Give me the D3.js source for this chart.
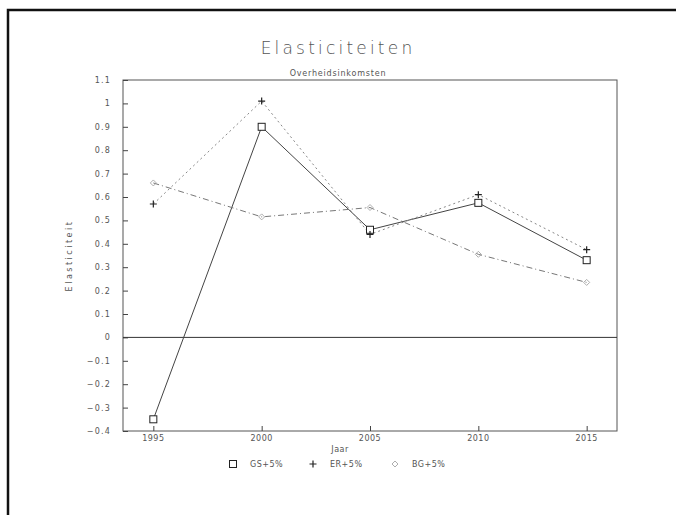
<!DOCTYPE html>
<html><head><meta charset="utf-8">
<script src="https://cdn.jsdelivr.net/npm/d3@7"></script>
<style>
body{margin:0;background:#fff;}
text{font-family:"DejaVu Sans",sans-serif;fill:#555;}
</style></head>
<body>
<svg id="c" width="676" height="515"></svg>
<script>
const years = [1995, 2000, 2005, 2010, 2015];
const gs = [-0.35, 0.90, 0.46, 0.575, 0.33];
const er = [0.57, 1.01, 0.44, 0.61, 0.375];
const bg = [0.66, 0.515, 0.555, 0.355, 0.235];
const yTicks = [1.1, 1, 0.9, 0.8, 0.7, 0.6, 0.5, 0.4, 0.3, 0.2, 0.1, 0, -0.1, -0.2, -0.3, -0.4];
const seriesNames = ["GS+5%", "ER+5%", "BG+5%"];

const svg = d3.select("#c");
const L = 123, R = 617, T = 80, B = 431;
const x = d3.scaleLinear().domain([1993.6, 2016.4]).range([L, R]);
const y = d3.scaleLinear().domain([-0.4, 1.1]).range([B, T]);

// page border
svg.append("path").attr("d", "M8,515 V10 H676").attr("fill", "none").attr("stroke", "#111").attr("stroke-width", 2.5);

// frame
svg.append("rect").attr("x", L).attr("y", T).attr("width", R - L).attr("height", B - T)
  .attr("fill", "none").attr("stroke", "#555").attr("stroke-width", 1);

// y axis
const ya = svg.append("g").attr("transform", `translate(${L},0)`)
  .call(d3.axisRight(y).tickValues(yTicks).tickSize(5).tickFormat(""));
ya.select(".domain").remove();
ya.selectAll("line").attr("stroke", "#444");
svg.selectAll(".ylab").data(yTicks).enter().append("text")
  .attr("x", L - 12).attr("y", d => y(d) + 3).attr("text-anchor", "end")
  .attr("font-size", 8).attr("letter-spacing", 1.2)
  .text(d => d3.format("")(Math.round(d * 10) / 10));

// x axis
const xa = svg.append("g").attr("transform", `translate(0,${B})`)
  .call(d3.axisTop(x).tickValues(years).tickSize(5).tickFormat(""));
xa.select(".domain").remove();
xa.selectAll("line").attr("stroke", "#444");
svg.selectAll(".xlab").data(years).enter().append("text")
  .attr("x", d => x(d)).attr("y", B + 10).attr("text-anchor", "middle")
  .attr("font-size", 8).attr("letter-spacing", 0.5).text(d => d);

// zero line
svg.append("line").attr("x1", L).attr("x2", R).attr("y1", y(0)).attr("y2", y(0))
  .attr("stroke", "#333").attr("stroke-width", 1);

// titles
svg.append("text").attr("x", 338).attr("y", 54).attr("text-anchor", "middle")
  .attr("font-size", 17).attr("letter-spacing", 3.2).attr("font-weight", 300).text("Elasticiteiten");
svg.append("text").attr("x", 338).attr("y", 76).attr("text-anchor", "middle")
  .attr("font-size", 8).attr("letter-spacing", 0.8).text("Overheidsinkomsten");
svg.append("text").attr("transform", `translate(72,${(T + B) / 2}) rotate(-90)`).attr("text-anchor", "middle")
  .attr("font-size", 8).attr("letter-spacing", 2.5).text("Elasticiteit");
svg.append("text").attr("x", 340).attr("y", 452).attr("text-anchor", "middle")
  .attr("font-size", 8).attr("letter-spacing", 0.5).text("Jaar");

const line = d3.line().x((d, i) => x(years[i])).y(d => y(d));
const styles = [
  {data: gs, stroke: "#444", dash: null, w: 1},
  {data: er, stroke: "#888", dash: "2,3", w: 1},
  {data: bg, stroke: "#777", dash: "6,3,1,3", w: 1}
];
styles.forEach(s => {
  svg.append("path").datum(s.data).attr("d", line).attr("fill", "none")
    .attr("stroke", s.stroke).attr("stroke-width", s.w).attr("stroke-dasharray", s.dash);
});

function marker(g, type, cx, cy) {
  if (type === 0) {
    g.append("rect").attr("x", cx - 3.5).attr("y", cy - 3.5).attr("width", 7).attr("height", 7)
      .attr("fill", "#fff").attr("stroke", "#222").attr("stroke-width", 1);
  } else if (type === 1) {
    g.append("path").attr("d", `M${cx - 3.5},${cy}H${cx + 3.5}M${cx},${cy - 3.5}V${cy + 3.5}`)
      .attr("stroke", "#222").attr("stroke-width", 1.2);
  } else {
    g.append("path").attr("d", `M${cx},${cy - 3}L${cx + 3},${cy}L${cx},${cy + 3}L${cx - 3},${cy}Z`)
      .attr("fill", "none").attr("stroke", "#999").attr("stroke-width", 0.8);
  }
}
const mg = svg.append("g");
styles.forEach((s, k) => s.data.forEach((v, i) => marker(mg, k, x(years[i]), y(v))));

// legend
const legX = [233, 313, 395];
seriesNames.forEach((n, k) => {
  marker(mg, k, legX[k], 464);
  svg.append("text").attr("x", legX[k] + 17).attr("y", 467).attr("font-size", 8)
    .attr("letter-spacing", 0.5).text(n);
});
</script>
</body></html>
